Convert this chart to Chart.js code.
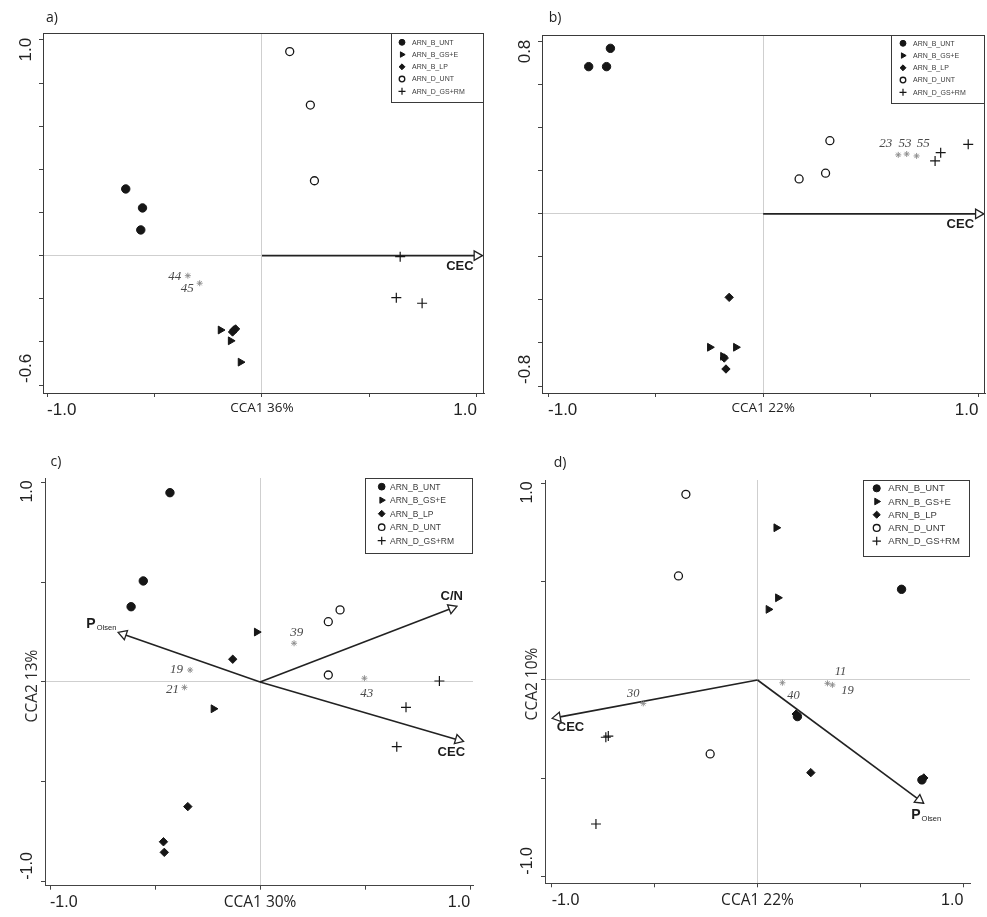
<!DOCTYPE html>
<html>
<head>
<meta charset="utf-8">
<script src="https://cdn.jsdelivr.net/npm/chart.js@4.4.1/dist/chart.umd.min.js"></script>
<style>
  body { margin: 0; background: #fff; width: 987px; height: 917px; overflow: hidden; }
  .panel { position: absolute; }
</style>
</head>
<body>
<div class="panel" style="left:0;top:0;width:490px;height:420px"><canvas id="pa"></canvas></div>
<div class="panel" style="left:490px;top:0;width:497px;height:420px"><canvas id="pb"></canvas></div>
<div class="panel" style="left:0;top:450px;width:490px;height:467px"><canvas id="pc"></canvas></div>
<div class="panel" style="left:490px;top:450px;width:497px;height:467px"><canvas id="pd"></canvas></div>
<script>
// treatment groups (same in all panels)
var groupNames = ['ARN_B_UNT', 'ARN_B_GS+E', 'ARN_B_LP', 'ARN_D_UNT', 'ARN_D_GS+RM'];

// axis ticks
var xTicks = [-1, -0.5, 0, 0.5, 1];
var yTicksA = [-0.6, -0.4, -0.2, 0, 0.2, 0.4, 0.6, 0.8, 1.0];
var yTicksB = [-0.8, -0.6, -0.4, -0.2, 0, 0.2, 0.4, 0.6, 0.8];
var yTicksCD = [-1, -0.5, 0, 0.5, 1];

/* a) */
var a_B_UNT = [[-0.634, 0.309], [-0.556, 0.221], [-0.564, 0.119]];
var a_B_GSE = [[-0.193, -0.345], [-0.146, -0.395], [-0.100, -0.494]];
var a_B_LP = [[-0.131, -0.345], [-0.123, -0.340], [-0.137, -0.354]];
var a_D_UNT = [[0.129, 0.946], [0.225, 0.698], [0.244, 0.347]];
var a_D_GSRM = [[0.643, -0.005], [0.625, -0.195], [0.745, -0.221]];
var a_speciesNames = ['44', '45'];
var a_speciesXY = [[-0.345, -0.093], [-0.290, -0.128]];
var a_arrowNames = ['CEC'];
var a_arrowXY = [[1.0, 0]];
var a_xTitle = 'CCA1 36%';

/* b) */
var b_B_UNT = [[-0.710, 0.769], [-0.811, 0.684], [-0.728, 0.684]];
var b_B_GSE = [[-0.248, -0.620], [-0.127, -0.620], [-0.187, -0.662]];
var b_B_LP = [[-0.158, -0.388], [-0.181, -0.670], [-0.173, -0.721]];
var b_D_UNT = [[0.310, 0.340], [0.290, 0.189], [0.167, 0.162]];
var b_D_GSRM = [[0.953, 0.323], [0.825, 0.284], [0.799, 0.246]];
var b_speciesNames = ['23', '53', '55'];
var b_speciesXY = [[0.628, 0.274], [0.667, 0.278], [0.713, 0.269]];
var b_arrowNames = ['CEC'];
var b_arrowXY = [[1.0, 0]];
var b_xTitle = 'CCA1 22%';

/* c) */
var c_B_UNT = [[-0.429, 0.948], [-0.556, 0.506], [-0.614, 0.377]];
var c_B_GSE = [[-0.016, 0.250], [-0.222, -0.134]];
var c_B_LP = [[-0.130, 0.114], [-0.344, -0.624], [-0.460, -0.800], [-0.456, -0.853]];
var c_D_UNT = [[0.325, 0.302], [0.381, 0.361], [0.325, 0.035]];
var c_D_GSRM = [[0.854, 0.005], [0.695, -0.127], [0.651, -0.324]];
var c_speciesNames = ['39', '19', '21', '43'];
var c_speciesXY = [[0.162, 0.194], [-0.333, 0.060], [-0.360, -0.027], [0.497, 0.019]];
var c_arrowNames = ['P_Olsen', 'C/N', 'CEC'];
var c_arrowXY = [[-0.651, 0.239], [0.913, 0.369], [0.944, -0.290]];
var c_xTitle = 'CCA1 30%';
var c_yTitle = 'CCA2 13%';

/* d) */
var d_B_UNT = [[0.700, 0.461], [0.799, -0.508], [0.194, -0.186]];
var d_B_GSE = [[0.091, 0.774], [0.099, 0.418], [0.053, 0.359]];
var d_B_LP = [[0.259, -0.471], [0.808, -0.498], [0.188, -0.173]];
var d_D_UNT = [[-0.348, 0.944], [-0.384, 0.529], [-0.230, -0.376]];
var d_D_GSRM = [[-0.737, -0.291], [-0.785, -0.732], [-0.725, -0.285]];
var d_speciesNames = ['30', '40', '11', '19'];
var d_speciesXY = [[-0.555, -0.119], [0.121, -0.014], [0.340, -0.017], [0.364, -0.025]];
var d_arrowNames = ['CEC', 'P_Olsen'];
var d_arrowXY = [[-0.972, -0.190], [0.786, -0.610]];
var d_xTitle = 'CCA1 22%';
var d_yTitle = 'CCA2 10%';

var INK = '#161616';
var groupStyles = [
  { pointStyle: 'circle', radius: 4.2, rotation: 0, bg: INK, border: INK, bw: 1 },
  { pointStyle: 'triangle', radius: 4.5, rotation: 90, bg: INK, border: INK, bw: 1 },
  { pointStyle: 'rectRot', radius: 4.2, rotation: 0, bg: INK, border: INK, bw: 1 },
  { pointStyle: 'circle', radius: 4, rotation: 0, bg: '#fff', border: INK, bw: 1.3 },
  { pointStyle: 'cross', radius: 5, rotation: 0, bg: INK, border: INK, bw: 1.2 }
];

function toXY(list) {
  return list.map(function (p) { return { x: p[0], y: p[1] }; });
}

// labels, legend box, frame and rotated y labels
var extrasPlugin = {
  id: 'extras',
  afterDraw: function (chart, args, o) {
    var ctx = chart.ctx;
    var area = chart.chartArea;
    var xs = chart.scales.x, ys = chart.scales.y;
    ctx.save();

    if (o.frame) {
      ctx.strokeStyle = '#3a3a3a';
      ctx.lineWidth = 1;
      ctx.strokeRect(area.left + 0.5, area.top + 0.5, area.right - area.left - 1, area.bottom - area.top);
    }

    // species labels
    ctx.font = 'italic ' + o.speciesFont + 'px "Liberation Serif", "DejaVu Serif", serif';
    ctx.fillStyle = '#4a4a4a';
    ctx.textAlign = 'center';
    ctx.textBaseline = 'middle';
    o.speciesNames.forEach(function (name, i) {
      var px = xs.getPixelForValue(o.speciesXY[i][0]) + o.speciesOffsets[i][0];
      var py = ys.getPixelForValue(o.speciesXY[i][1]) + o.speciesOffsets[i][1];
      ctx.fillText(name, px, py);
    });

    // arrow labels
    ctx.fillStyle = '#1c1c1c';
    o.arrowNames.forEach(function (name, i) {
      var px = xs.getPixelForValue(o.arrowXY[i][0]) + o.arrowOffsets[i][0];
      var py = ys.getPixelForValue(o.arrowXY[i][1]) + o.arrowOffsets[i][1];
      var parts = name.split('_');
      if (parts.length > 1) {
        ctx.font = 'bold 14px "Liberation Sans", Arial, sans-serif';
        var w1 = ctx.measureText(parts[0]).width;
        ctx.font = '7.5px "Liberation Sans", Arial, sans-serif';
        var w2 = ctx.measureText(parts[1]).width;
        var x0 = px - (w1 + w2 + 1) / 2;
        ctx.textAlign = 'left';
        ctx.font = 'bold 14px "Liberation Sans", Arial, sans-serif';
        ctx.fillText(parts[0], x0, py);
        ctx.font = '7.5px "Liberation Sans", Arial, sans-serif';
        ctx.fillText(parts[1], x0 + w1 + 1, py + 4);
        ctx.textAlign = 'center';
      } else {
        ctx.font = 'bold 13px "Liberation Sans", Arial, sans-serif';
        ctx.fillText(name, px, py);
      }
    });

    // rotated y tick labels at the two ends, title at zero
    ctx.fillStyle = '#222';
    ctx.font = o.tickFont + 'px "Liberation Sans", Arial, sans-serif';
    var yt = o.yTicks;
    var lx = area.left - 17;
    [[yt[yt.length - 1], 'right'], [yt[0], 'left']].forEach(function (t) {
      var py = ys.getPixelForValue(t[0]) - 2;
      ctx.save();
      ctx.translate(lx, py);
      ctx.rotate(-Math.PI / 2);
      ctx.textAlign = t[1];
      ctx.textBaseline = 'middle';
      ctx.fillText(t[0].toFixed(1), 0, 0);
      ctx.restore();
    });
    if (o.yTitle) {
      ctx.save();
      ctx.font = o.titleFont + 'px "Open Sans", "Liberation Sans", sans-serif';
      ctx.fillStyle = '#2a2a2a';
      ctx.translate(area.left - 12, ys.getPixelForValue(0) + 4);
      ctx.rotate(-Math.PI / 2);
      ctx.textAlign = 'center';
      ctx.textBaseline = 'middle';
      ctx.fillText(o.yTitle, 0, 0);
      ctx.restore();
    }

    // panel letter
    ctx.font = '14px "Open Sans", "Liberation Sans", sans-serif';
    ctx.fillStyle = '#222';
    ctx.textAlign = 'center';
    ctx.textBaseline = 'middle';
    ctx.fillText(o.letter, o.letterPos[0], o.letterPos[1]);

    // legend box in the top right corner
    var L = o.legend;
    var bx = area.right - L.w, by = area.top;
    ctx.fillStyle = '#fff';
    ctx.fillRect(bx, by, L.w, L.h);
    ctx.strokeStyle = '#3a3a3a';
    ctx.lineWidth = 1;
    ctx.strokeRect(bx + 0.5, by + 0.5, L.w - 1, L.h);
    ctx.textAlign = 'left';
    ctx.font = L.font + 'px "Liberation Sans", Arial, sans-serif';
    groupNames.forEach(function (name, i) {
      var s = groupStyles[i];
      var cy = by + L.first + i * L.row;
      ctx.fillStyle = s.bg;
      ctx.strokeStyle = s.border;
      ctx.lineWidth = s.bw;
      Chart.helpers.drawPoint(ctx, {
        pointStyle: s.pointStyle, radius: s.radius * L.scale,
        rotation: s.rotation, borderWidth: s.bw
      }, bx + L.mx, cy);
      ctx.fillStyle = '#3c3c3c';
      ctx.fillText(name, bx + L.tx, cy + 0.5);
    });

    ctx.restore();
  }
};

function makePanel(p) {
  var datasets = p.groups.map(function (list, i) {
    var s = groupStyles[i];
    return {
      label: groupNames[i],
      data: toXY(list),
      pointStyle: s.pointStyle,
      pointRadius: s.radius,
      pointRotation: s.rotation,
      pointBackgroundColor: s.bg,
      pointBorderColor: s.border,
      pointBorderWidth: s.bw
    };
  });

  datasets.push({
    label: 'species',
    data: toXY(p.speciesXY),
    pointStyle: 'star',
    pointRadius: 3,
    pointBorderColor: '#8a8a8a',
    pointBackgroundColor: '#fff',
    pointBorderWidth: 0.9
  });

  p.arrowXY.forEach(function (a, i) {
    datasets.push({
      label: p.arrowNames[i],
      data: [{ x: 0, y: 0 }, { x: a[0], y: a[1] }],
      showLine: true,
      borderColor: '#222',
      borderWidth: 1.6,
      pointRadius: [0, 5.5],
      pointStyle: 'triangle',
      pointBackgroundColor: '#fff',
      pointBorderColor: '#222',
      pointBorderWidth: 1.3,
      pointRotation: function (ctx) {
        var xs = ctx.chart.scales.x, ys = ctx.chart.scales.y;
        var dx = xs.getPixelForValue(a[0]) - xs.getPixelForValue(0);
        var dy = ys.getPixelForValue(a[1]) - ys.getPixelForValue(0);
        return Math.atan2(dy, dx) * 180 / Math.PI + 90;
      }
    });
  });

  var zeroGrid = function (ctx) {
    return ctx.tick && ctx.tick.value === 0 ? '#cfcfcf' : 'rgba(0,0,0,0)';
  };

  new Chart(document.getElementById(p.canvas), {
    type: 'scatter',
    data: { datasets: datasets },
    plugins: [extrasPlugin],
    options: {
      responsive: true,
      maintainAspectRatio: false,
      animation: false,
      events: [],
      layout: {
        autoPadding: false,
        padding: { top: p.area.t, right: p.size[0] - p.area.r, left: 0, bottom: 0 }
      },
      scales: {
        x: {
          type: 'linear',
          min: p.xMin, max: p.xMax,
          afterBuildTicks: function (scale) {
            scale.ticks = xTicks.map(function (v) { return { value: v }; });
          },
          afterFit: function (scale) { scale.height = p.size[1] - p.area.b; },
          border: { display: true, color: '#444', width: 1 },
          grid: { color: zeroGrid, lineWidth: 1, drawTicks: true, tickLength: 4, tickColor: '#444', tickWidth: 1 },
          ticks: {
            align: 'inner',
            padding: 3.5,
            maxRotation: 0,
            autoSkip: false,
            color: '#222',
            font: function (ctx) {
              if (ctx.tick && ctx.tick.value === 0) {
                return { family: '"Open Sans", "Liberation Sans", sans-serif', size: p.titleFont };
              }
              return { family: '"Liberation Sans", Arial, sans-serif', size: p.tickFont };
            },
            callback: function (v, i) {
              if (i === 0) return '-1.0';
              if (i === xTicks.length - 1) return '1.0';
              if (v === 0) return p.xTitle;
              return '';
            }
          }
        },
        y: {
          type: 'linear',
          min: p.yMin, max: p.yMax,
          afterBuildTicks: function (scale) {
            scale.ticks = p.yTicks.map(function (v) { return { value: v }; });
          },
          afterFit: function (scale) { scale.width = p.area.l; },
          border: { display: true, color: '#444', width: 1 },
          grid: { color: zeroGrid, lineWidth: 1, drawTicks: true, tickLength: 4, tickColor: '#444', tickWidth: 1 },
          ticks: { display: false }
        }
      },
      plugins: {
        legend: { display: false },
        tooltip: { enabled: false },
        extras: {
          frame: p.frame, letter: p.letter, letterPos: p.letterPos,
          yTicks: p.yTicks, yTitle: p.yTitle, tickFont: p.tickFont, titleFont: p.titleFont,
          legend: p.legend, speciesFont: p.speciesFont,
          speciesNames: p.speciesNames, speciesXY: p.speciesXY, speciesOffsets: p.speciesOffsets,
          arrowNames: p.arrowNames, arrowXY: p.arrowXY, arrowOffsets: p.arrowOffsets
        }
      }
    }
  });
}

makePanel({
  canvas: 'pa', letter: 'a)', letterPos: [52, 18], size: [490, 420],
  area: { l: 43, t: 33, r: 484, b: 393 },
  xMin: -1.019, xMax: 1.033, yMin: -0.637, yMax: 1.032, yTicks: yTicksA,
  frame: true, tickFont: 17, titleFont: 13.5, speciesFont: 13,
  groups: [a_B_UNT, a_B_GSE, a_B_LP, a_D_UNT, a_D_GSRM],
  speciesNames: a_speciesNames, speciesXY: a_speciesXY, speciesOffsets: [[-13, 1], [-12.5, 5]],
  arrowNames: a_arrowNames, arrowXY: a_arrowXY, arrowOffsets: [[-17, 11]],
  xTitle: a_xTitle, yTitle: null,
  legend: { w: 93, h: 69, first: 9.3, row: 12.25, mx: 11, tx: 21, font: 7, scale: 0.7 }
});

makePanel({
  canvas: 'pb', letter: 'b)', letterPos: [65, 18], size: [497, 420],
  area: { l: 52, t: 35, r: 495, b: 393 },
  xMin: -1.028, xMax: 1.031, yMin: -0.8325, yMax: 0.831, yTicks: yTicksB,
  frame: true, tickFont: 17, titleFont: 13.5, speciesFont: 13,
  groups: [b_B_UNT, b_B_GSE, b_B_LP, b_D_UNT, b_D_GSRM],
  speciesNames: b_speciesNames, speciesXY: b_speciesXY, speciesOffsets: [[-12.6, -11.7], [-1.7, -10.7], [6.6, -12.7]],
  arrowNames: b_arrowNames, arrowXY: b_arrowXY, arrowOffsets: [[-18, 11]],
  xTitle: b_xTitle, yTitle: null,
  legend: { w: 94, h: 68, first: 8.3, row: 12.25, mx: 12, tx: 22, font: 7, scale: 0.7 }
});

makePanel({
  canvas: 'pc', letter: 'c)', letterPos: [56, 12], size: [490, 467],
  area: { l: 45, t: 28, r: 473, b: 435.7 },
  xMin: -1.024, xMax: 1.014, yMin: -1.02, yMax: 1.0215, yTicks: yTicksCD,
  frame: false, tickFont: 16, titleFont: 15.5, speciesFont: 13,
  groups: [c_B_UNT, c_B_GSE, c_B_LP, c_D_UNT, c_D_GSRM],
  speciesNames: c_speciesNames, speciesXY: c_speciesXY, speciesOffsets: [[2.7, -10.6], [-13.5, 0], [-12, 2], [2.4, 15]],
  arrowNames: c_arrowNames, arrowXY: c_arrowXY, arrowOffsets: [[-22, -10], [0, -12], [-7, 13]],
  xTitle: c_xTitle, yTitle: c_yTitle,
  legend: { w: 108, h: 75, first: 8.7, row: 13.5, mx: 16.7, tx: 25, font: 8.5, scale: 0.8 }
});

makePanel({
  canvas: 'pd', letter: 'd)', letterPos: [70, 13], size: [497, 467],
  area: { l: 55, t: 30, r: 480, b: 433.3 },
  xMin: -1.0326, xMax: 1.0326, yMin: -1.0336, yMax: 1.0168, yTicks: yTicksCD,
  frame: false, tickFont: 16, titleFont: 15.5, speciesFont: 12.5,
  groups: [d_B_UNT, d_B_GSE, d_B_LP, d_D_UNT, d_D_GSRM],
  speciesNames: d_speciesNames, speciesXY: d_speciesXY, speciesOffsets: [[-10, -10], [11, 13], [13, -12], [15, 6]],
  arrowNames: d_arrowNames, arrowXY: d_arrowXY, arrowOffsets: [[13, 10], [7, 15]],
  xTitle: d_xTitle, yTitle: d_yTitle,
  legend: { w: 107, h: 76, first: 8.3, row: 13.2, mx: 13.7, tx: 25.3, font: 9.5, scale: 0.85 }
});
</script>
</body>
</html>
